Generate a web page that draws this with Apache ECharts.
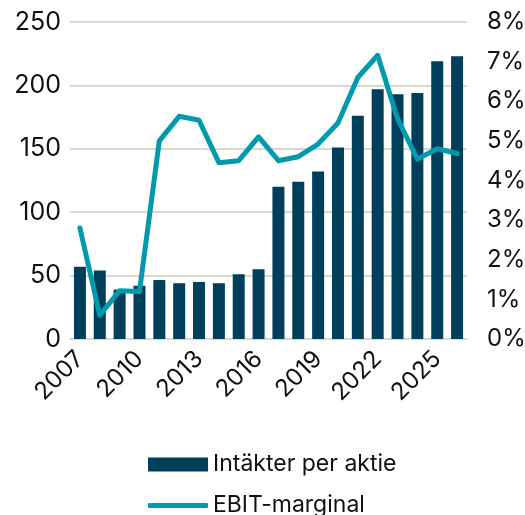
<!DOCTYPE html>
<html>
<head>
<meta charset="utf-8">
<script src="https://cdn.jsdelivr.net/npm/echarts@6/dist/echarts.min.js"></script>
<style>
html, body { margin: 0; padding: 0; background: #fff; }
#chart { width: 525px; height: 515px; }
</style>
</head>
<body>
<div id="chart"></div>
<script>
var years = ['2007', '2008', '2009', '2010', '2011', '2012', '2013', '2014', '2015', '2016',
	'2017', '2018', '2019', '2020', '2021', '2022', '2023', '2024', '2025', '2026'];
var intakter = [57, 54, 39, 42, 46.5, 44, 45, 44, 51, 55,
	120, 124, 132, 151, 176, 197, 193, 194, 219, 223];
var ebitMarginal = [2.8, 0.6, 1.22, 1.2, 5.0, 5.62, 5.52, 4.45, 4.5, 5.1,
	4.5, 4.6, 4.92, 5.45, 6.6, 7.16, 5.56, 4.54, 4.8, 4.68];

var font = 'Inter, "Noto Sans", sans-serif';
var legendText = {
	fontFamily : font,
	fontSize : 23,
	color : '#111'
};
var chart = echarts.init(document.getElementById('chart'));
var option = {
	animation : false,
	color : [ '#003f5a', '#0099ad' ],
	grid : {
		left : 70,
		right : 58,
		top : 22,
		bottom : 176,
		containLabel : false,
		outerBoundsMode : 'none'
	},
	legend : [ {
		left : 143,
		top : 448,
		itemWidth : 60,
		itemHeight : 14,
		textStyle : legendText,
		data : [ {
			name : 'Intäkter per aktie',
			icon : 'rect'
		} ]
	}, {
		left : 143,
		top : 489,
		itemWidth : 60,
		itemHeight : 5,
		textStyle : legendText,
		data : [ {
			name : 'EBIT-marginal',
			icon : 'roundRect'
		} ]
	} ],
	xAxis : {
		type : 'category',
		data : years,
		axisTick : { show : false },
		axisLine : {
			lineStyle : { color : '#d9d9d6', width : 2 }
		},
		axisLabel : {
			interval : 2,
			rotate : 45,
			margin : 16,
			fontFamily : font,
			fontSize : 24,
			color : '#111'
		}
	},
	yAxis : [ {
		type : 'value',
		min : 0,
		max : 250,
		interval : 50,
		axisLine : { show : false },
		axisTick : { show : false },
		splitLine : {
			lineStyle : { color : '#d8d8cc', width : 2 }
		},
		axisLabel : {
			margin : 9,
			fontFamily : font,
			fontSize : 25,
			color : '#111'
		}
	}, {
		type : 'value',
		min : 0,
		max : 8,
		interval : 1,
		position : 'right',
		axisLine : { show : false },
		axisTick : { show : false },
		splitLine : { show : false },
		axisLabel : {
			margin : 20,
			formatter : '{value}%',
			fontFamily : font,
			fontSize : 24,
			color : '#111'
		}
	} ],
	series : [ {
		name : 'Intäkter per aktie',
		type : 'bar',
		barWidth : 12,
		data : intakter
	}, {
		name : 'EBIT-marginal',
		type : 'line',
		yAxisIndex : 1,
		symbol : 'none',
		lineStyle : { width : 5, cap : 'round', join : 'round' },
		data : ebitMarginal
	} ]
};
chart.setOption(option, true);
</script>
</body>
</html>
